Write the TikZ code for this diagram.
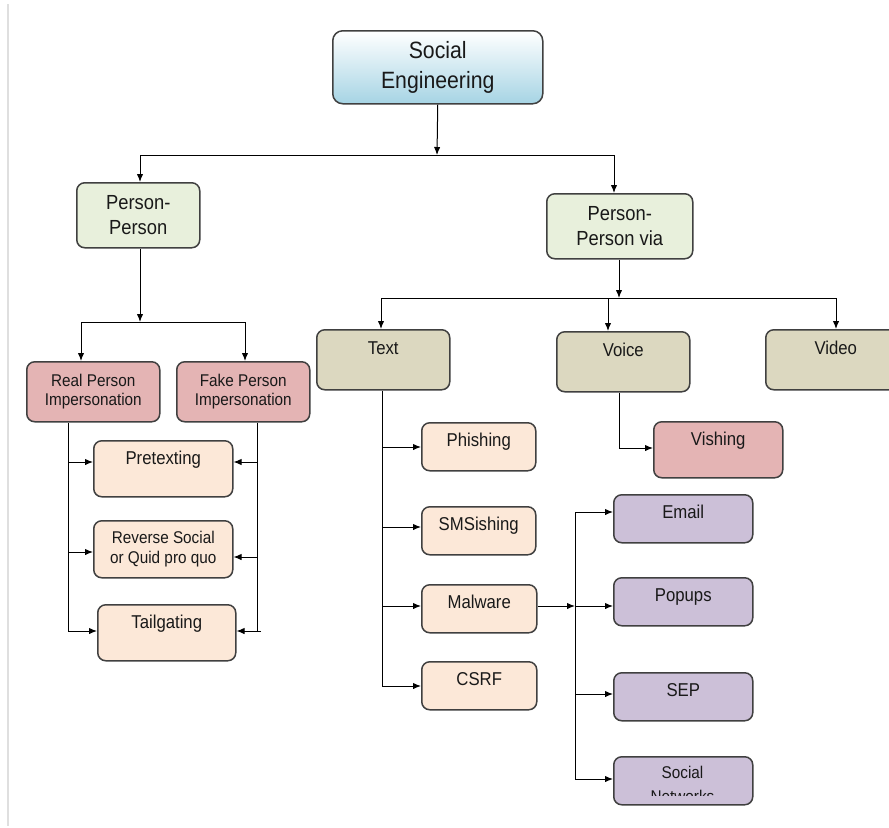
\documentclass[tikz,border=0pt]{standalone}
\usepackage{fontspec}
\setmainfont[FakeStretch=0.9]{Liberation Sans}
\usetikzlibrary{arrows.meta}

\definecolor{seblue}{RGB}{166,212,228}
\definecolor{ppgreen}{RGB}{232,240,220}
\definecolor{imppink}{RGB}{228,180,180}
\definecolor{techpeach}{RGB}{252,232,216}
\definecolor{chankhaki}{RGB}{220,216,192}
\definecolor{malpurple}{RGB}{204,192,216}
\definecolor{edge}{RGB}{64,64,64}

\begin{document}
\begin{tikzpicture}[x=0.5pt,y=-0.5pt]
    \clip (0,0) rectangle (889,827);
    \fill[white] (0,0) rectangle (889,827);
    \draw[gray!25, line width=1pt] (7.5,4) -- (7.5,826);

    \tikzstyle{block}=[draw=edge,line width=0.75pt,rounded corners=4pt,inner sep=0pt,anchor=north west,align=center,text=black!90]
    \tikzstyle{root}=[block,rounded corners=5pt,top color=white,bottom color=seblue,minimum width=105pt,minimum height=36.5pt,font=\fontsize{11.8}{15}\selectfont]
    \tikzstyle{cat}=[block,fill=ppgreen,minimum height=32.5pt,font=\fontsize{10.2}{12.5}\selectfont]
    \tikzstyle{imp}=[block,fill=imppink]
    \tikzstyle{attack}=[block,fill=techpeach]
    \tikzstyle{media}=[block,fill=chankhaki,minimum width=66.5pt,text height=12.5pt,text depth=17.5pt,font=\fontsize{9.3}{11}\selectfont]
    \tikzstyle{vector}=[block,fill=malpurple,minimum width=69.5pt]
    \tikzstyle{small}=[font=\fontsize{9.3}{11}\selectfont]
    \tikzstyle{tiny}=[font=\fontsize{8.5}{9.5}\selectfont]
    \tikzstyle{low}=[small,text height=12pt,text depth=12pt]
    \tikzstyle{high}=[small,text height=12pt,text depth=16pt]

    \node[root] (se) at (332,30) {Social\\Engineering};

    \node[cat,minimum width=61.5pt] (pp) at (76,182) {Person-\\Person};
    \node[cat,minimum width=73pt] (ppvia) at (546,193) {Person-\\Person via};

    \node[imp,tiny,minimum width=66.5pt,minimum height=30pt] (real) at (26,361) {Real Person\\Impersonation};
    \node[imp,tiny,minimum width=66.5pt,minimum height=30pt] (fake) at (176,361) {Fake Person\\Impersonation};

    \node[attack,high,minimum width=69.5pt] (pretext) at (93,440) {Pretexting};
    \node[attack,minimum width=69.5pt,minimum height=28.5pt,font=\fontsize{8.5}{10}\selectfont] (quid) at (93,520) {Reverse Social\\or Quid pro quo};
    \node[attack,high,minimum width=69pt] (tailg) at (97,604) {Tailgating};

    \node[media] (text) at (316,329) {Text};
    \node[media] (voice) at (556,331) {Voice};
    \node[media,minimum width=70pt] (video) at (765,329) {Video};

    \node[attack,low,minimum width=57pt] (phish) at (421,422) {Phishing};
    \node[attack,low,minimum width=57pt] (sms) at (421,506) {SMSishing};
    \node[attack,low,minimum width=57.5pt] (malware) at (421,584) {Malware};
    \node[attack,low,minimum width=57.5pt] (csrf) at (421,661) {CSRF};

    \node[imp,high,minimum width=64.5pt] (vish) at (653,421) {Vishing};

    \node[vector,low] (email) at (613,494) {Email};
    \node[vector,low] (popups) at (613,577) {Popups};
    \node[vector,low] (sep) at (613,672) {SEP};
    \node[vector,low] (socnet) at (613,756) {};
    \begin{scope}
      \clip (615,757) rectangle (751,795);
      \node[anchor=north,inner sep=0pt,align=center,text=black!90,font=\fontsize{8.5}{12}\selectfont] (socnettext) at (682.5,766) {Social\\Networks};
    \end{scope}

    \tikzstyle{fwd}=[draw=black, line width=0.5pt, -{Latex[length=4pt,width=3.2pt]}]
    \tikzstyle{bus}=[draw=black, line width=0.5pt]

    % top level
    \coordinate (top) at (437,155);
    \coordinate (topl) at (140,155);
    \coordinate (topr) at (614,155);
    \draw[fwd] (se.south) -- (top);
    \draw[bus] (topl) -- (topr);
    \draw[fwd] (topl) -- (topl |- pp.north);
    \draw[fwd] (topr) -- (topr |- ppvia.north);

    % person-person
    \coordinate (ppj) at (140,322);
    \coordinate (ppjl) at (81,322);
    \coordinate (ppjr) at (245,322);
    \draw[fwd] (ppj |- pp.south) -- (ppj);
    \draw[bus] (ppjl) -- (ppjr);
    \draw[fwd] (ppjl) -- (ppjl |- real.north);
    \draw[fwd] (ppjr) -- (ppjr |- fake.north);

    \coordinate (rl) at (68,631);
    \coordinate (rl1) at (68,462);
    \coordinate (rl2) at (68,552);
    \draw[bus] (rl |- real.south) -- (rl);
    \draw[fwd] (rl1) -- (rl1 -| pretext.west);
    \draw[fwd] (rl2) -- (rl2 -| quid.west);
    \draw[fwd] (rl) -- (rl -| tailg.west);

    \coordinate (fr) at (257,631);
    \coordinate (fr1) at (257,462);
    \coordinate (fr2) at (257,557);
    \coordinate (frt) at (261,631);
    \draw[bus] (fr |- fake.south) -- (fr);
    \draw[fwd] (fr1) -- (fr1 -| pretext.east);
    \draw[fwd] (fr2) -- (fr2 -| quid.east);
    \draw[fwd] (frt) -- (frt -| tailg.east);

    % person-person via
    \coordinate (via) at (619,298);
    \coordinate (vial) at (381,298);
    \coordinate (viam) at (608,298);
    \coordinate (viar) at (836,298);
    \draw[fwd] (via |- ppvia.south) -- (via);
    \draw[bus] (vial) -- (viar);
    \draw[fwd] (vial) -- (vial |- text.north);
    \draw[fwd] (viam) -- (viam |- voice.north);
    \draw[fwd] (viar) -- (viar |- video.north);

    \coordinate (tb) at (382,686);
    \coordinate (tb1) at (382,447);
    \coordinate (tb2) at (382,527);
    \coordinate (tb3) at (382,606);
    \draw[bus] (tb |- text.south) -- (tb);
    \draw[fwd] (tb1) -- (tb1 -| phish.west);
    \draw[fwd] (tb2) -- (tb2 -| sms.west);
    \draw[fwd] (tb3) -- (tb3 -| malware.west);
    \draw[fwd] (tb) -- (tb -| csrf.west);

    \coordinate (mb) at (575,606);
    \coordinate (mbt) at (575,512);
    \coordinate (mb3) at (575,694);
    \coordinate (mbb) at (575,779);
    \draw[fwd] (mb -| malware.east) -- (mb);
    \draw[bus] (mbt) -- (mbb);
    \draw[fwd] (mbt) -- (mbt -| email.west);
    \draw[fwd] (mb) -- (mb -| popups.west);
    \draw[fwd] (mb3) -- (mb3 -| sep.west);
    \draw[fwd] (mbb) -- (mbb -| socnet.west);

    \coordinate (vv) at (619,448);
    \draw[fwd] (vv |- voice.south) -- (vv) -- (vv -| vish.west);
\end{tikzpicture}
\end{document}
